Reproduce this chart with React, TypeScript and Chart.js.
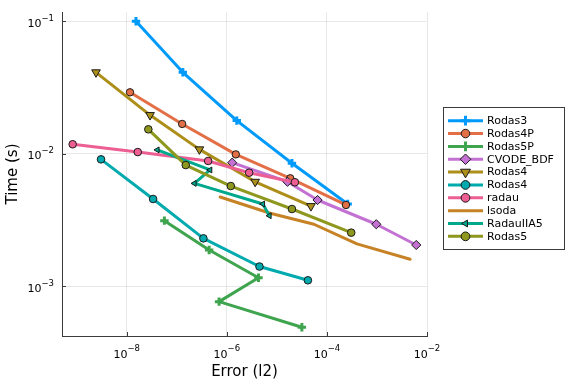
import React, { useEffect, useRef } from 'react';
import { Chart, registerables } from 'chart.js';
import { drawPoint } from 'chart.js/helpers';

Chart.register(...registerables);

const seriesNames = ['Rodas3', 'Rodas4P', 'Rodas5P', 'CVODE_BDF', 'Rodas4', 'Rodas4', 'radau', 'lsoda', 'RadauIIA5', 'Rodas5'];
const seriesColors = ['#009AFA', '#E36F47', '#3EA44E', '#C371D2', '#AC8E18', '#00AAAE', '#ED5E93', '#C68225', '#00A98D', '#8E971E'];

const errRodas3 = [1.53e-8, 1.32e-7, 1.58e-6, 2.0e-5, 2.6e-4];
const timeRodas3 = [0.1, 0.0412, 0.0178, 0.00848, 0.00418];
const errRodas4P = [1.16e-8, 1.28e-7, 1.51e-6, 1.85e-5, 2.4e-4];
const timeRodas4P = [0.0291, 0.0168, 0.0099, 0.00653, 0.00411];
const errRodas5P = [5.65e-8, 4.43e-7, 4.29e-6, 7.0e-7, 3.16e-5];
const timeRodas5P = [0.00313, 0.00188, 0.00116, 0.000766, 0.000491];
const errCVODE = [1.28e-6, 1.63e-5, 6.5e-5, 9.7e-4, 6.1e-3];
const timeCVODE = [0.00857, 0.00615, 0.00448, 0.00294, 0.00205];
const errRodas4Tri = [2.43e-9, 2.92e-8, 2.83e-7, 3.68e-6, 4.8e-5];
const timeRodas4Tri = [0.0412, 0.0196, 0.0108, 0.00615, 0.00403];
const errRodas4Circ = [3.06e-9, 3.36e-8, 3.4e-7, 4.49e-6, 4.17e-5];
const timeRodas4Circ = [0.00908, 0.00456, 0.0023, 0.00141, 0.00111];
const errRadau = [8.3e-10, 1.66e-8, 4.23e-7, 2.79e-6, 2.29e-5];
const timeRadau = [0.0118, 0.0103, 0.00883, 0.0072, 0.0061];
const errLsoda = [7.35e-7, 7.35e-6, 5.5e-5, 3.98e-4, 4.6e-3];
const timeLsoda = [0.00472, 0.00356, 0.00294, 0.00209, 0.0016];
const errRadauIIA5 = [4.09e-8, 4.63e-7, 2.25e-7, 5.25e-6, 7.1e-6];
const timeRadauIIA5 = [0.0107, 0.00755, 0.00598, 0.00418, 0.00341];
const errRodas5 = [2.7e-8, 1.51e-7, 1.2e-6, 2.0e-5, 3.06e-4];
const timeRodas5 = [0.0153, 0.00822, 0.00571, 0.00383, 0.00254];

const seriesErr = [errRodas3, errRodas4P, errRodas5P, errCVODE, errRodas4Tri, errRodas4Circ, errRadau, errLsoda, errRadauIIA5, errRodas5];
const seriesTime = [timeRodas3, timeRodas4P, timeRodas5P, timeCVODE, timeRodas4Tri, timeRodas4Circ, timeRadau, timeLsoda, timeRadauIIA5, timeRodas5];

const xTickValues = [1e-8, 1e-6, 1e-4, 1e-2];
const xTickExponents = ['−8', '−6', '−4', '−2'];
const yTickValues = [1e-3, 1e-2, 1e-1];
const yTickExponents = ['−3', '−2', '−1'];
const tickBase = '10';

const xTitle = 'Error (l2)';
const yTitle = 'Time (s)';

const FONT = '"DejaVu Sans", sans-serif';
const AXIS_COLOR = '#3a3a3a';

type MarkerSpec = { style: any; radius: number; rotation: number; cross: boolean };
const markers: MarkerSpec[] = [
  { style: 'cross', radius: 4.2, rotation: 0, cross: true },
  { style: 'circle', radius: 3.7, rotation: 0, cross: false },
  { style: 'cross', radius: 4.2, rotation: 0, cross: true },
  { style: 'rectRot', radius: 4.6, rotation: 0, cross: false },
  { style: 'triangle', radius: 5, rotation: 180, cross: false },
  { style: 'circle', radius: 3.8, rotation: 0, cross: false },
  { style: 'circle', radius: 3.8, rotation: 0, cross: false },
  { style: 'circle', radius: 0, rotation: 0, cross: false },
  { style: 'triangle', radius: 3.4, rotation: -90, cross: false },
  { style: 'circle', radius: 3.8, rotation: 0, cross: false },
];

const legendPlugin = {
  id: 'plotsLegend',
  afterDraw(chart: any) {
    const ctx = chart.ctx as CanvasRenderingContext2D;
    ctx.save();
    const bx = 443.5, by = 107.5, bw = 121, bh = 142;
    ctx.fillStyle = '#ffffff';
    ctx.fillRect(bx, by, bw, bh);
    ctx.strokeStyle = AXIS_COLOR;
    ctx.lineWidth = 1;
    ctx.strokeRect(bx, by, bw, bh);
    chart.data.datasets.forEach((ds: any, i: number) => {
      const y = 120.7 + i * 12.85;
      ctx.strokeStyle = ds.borderColor;
      ctx.lineWidth = 3;
      ctx.beginPath();
      ctx.moveTo(448, y);
      ctx.lineTo(483, y);
      ctx.stroke();
      const m = markers[i];
      if (m.radius > 0) {
        ctx.fillStyle = ds.pointBackgroundColor;
        ctx.strokeStyle = ds.pointBorderColor;
        ctx.lineWidth = ds.pointBorderWidth;
        drawPoint(ctx, { pointStyle: m.style, rotation: m.rotation, radius: m.radius * 1.15, borderWidth: ds.pointBorderWidth }, 465.5, y);
      }
      ctx.fillStyle = '#000000';
      ctx.font = '11px ' + FONT;
      ctx.textBaseline = 'middle';
      ctx.textAlign = 'left';
      ctx.fillText(ds.label, 487, y + 0.5);
    });
    ctx.restore();
  },
};

const tickPlugin = {
  id: 'plotsTicks',
  afterDraw(chart: any) {
    const ctx = chart.ctx as CanvasRenderingContext2D;
    const { left, bottom } = chart.chartArea;
    const xs = chart.scales.x;
    const ys = chart.scales.y;
    ctx.save();
    ctx.strokeStyle = AXIS_COLOR;
    ctx.lineWidth = 1;
    ctx.beginPath();
    xTickValues.forEach((v) => {
      const px = Math.round(xs.getPixelForValue(v)) + 0.5;
      ctx.moveTo(px, bottom);
      ctx.lineTo(px, bottom - 4);
    });
    yTickValues.forEach((v) => {
      const py = Math.round(ys.getPixelForValue(v)) + 0.5;
      ctx.moveTo(left, py);
      ctx.lineTo(left + 4, py);
    });
    ctx.stroke();

    const baseFont = '11px ' + FONT;
    const expFont = '8.5px ' + FONT;
    ctx.fillStyle = '#000000';
    ctx.textBaseline = 'alphabetic';
    ctx.textAlign = 'left';
    ctx.font = baseFont;
    const wBase = ctx.measureText(tickBase).width;

    xTickValues.forEach((v, i) => {
      const px = xs.getPixelForValue(v);
      ctx.font = expFont;
      const wExp = ctx.measureText(xTickExponents[i]).width;
      const start = px - (wBase + wExp) / 2;
      ctx.font = baseFont;
      ctx.fillText(tickBase, start, bottom + 21.7);
      ctx.font = expFont;
      ctx.fillText(xTickExponents[i], start + wBase, bottom + 15);
    });
    yTickValues.forEach((v, i) => {
      const py = ys.getPixelForValue(v);
      ctx.font = expFont;
      const wExp = ctx.measureText(yTickExponents[i]).width;
      const start = left - 8 - wExp - wBase;
      ctx.font = baseFont;
      ctx.fillText(tickBase, start, py + 5.3);
      ctx.font = expFont;
      ctx.fillText(yTickExponents[i], start + wBase, py - 0.7);
    });
    ctx.restore();
  },
};

export default function App() {
  const canvasRef = useRef<HTMLCanvasElement | null>(null);

  useEffect(() => {
    const canvas = canvasRef.current;
    if (!canvas) return;
    Chart.defaults.font.family = FONT;

    const datasets = seriesNames.map((name, i) => {
      const m = markers[i];
      const color = seriesColors[i];
      return {
        label: name,
        data: seriesErr[i].map((e, k) => ({ x: e, y: seriesTime[i][k] })),
        borderColor: color,
        backgroundColor: color,
        borderWidth: 3,
        showLine: true,
        fill: false,
        tension: 0,
        pointStyle: m.style,
        pointRadius: m.radius,
        pointRotation: m.rotation,
        pointBackgroundColor: color,
        pointBorderColor: m.cross ? color : '#1a1a1a',
        pointBorderWidth: m.cross ? 3 : 1,
        pointHoverRadius: m.radius,
        order: seriesNames.length - i,
      };
    });

    const chart = new Chart(canvas, {
      type: 'line',
      data: { datasets },
      plugins: [tickPlugin, legendPlugin],
      options: {
        animation: false,
        responsive: false,
        devicePixelRatio: 1,
        layout: { padding: { top: 12, right: 149, left: 0, bottom: 0 } },
        plugins: { legend: { display: false }, tooltip: { enabled: false } },
        elements: { line: { borderCapStyle: 'round', borderJoinStyle: 'round' } },
        scales: {
          x: {
            type: 'logarithmic',
            min: Math.pow(10, -9.294),
            max: 1e-2,
            afterBuildTicks: (scale: any) => {
              scale.ticks = xTickValues.map((v) => ({ value: v }));
            },
            afterFit: (scale: any) => {
              scale.height = 48;
            },
            ticks: { display: false, autoSkip: false, maxRotation: 0 },
            grid: { color: 'rgba(0,0,0,0.09)', lineWidth: 1, drawTicks: false },
            border: { display: true, color: AXIS_COLOR, width: 1 },
            title: {
              display: true,
              text: xTitle,
              color: '#000000',
              font: { size: 15, family: FONT },
              padding: { top: 0, bottom: 3 },
            },
          },
          y: {
            type: 'logarithmic',
            min: Math.pow(10, -3.375),
            max: Math.pow(10, -0.93),
            afterBuildTicks: (scale: any) => {
              scale.ticks = yTickValues.map((v) => ({ value: v }));
            },
            afterFit: (scale: any) => {
              scale.width = 62;
            },
            ticks: { display: false, autoSkip: false },
            grid: { color: 'rgba(0,0,0,0.09)', lineWidth: 1, drawTicks: false },
            border: { display: true, color: AXIS_COLOR, width: 1 },
            title: {
              display: true,
              text: yTitle,
              color: '#000000',
              font: { size: 15, family: FONT },
              padding: { top: 4, bottom: 0 },
            },
          },
        },
      },
    });

    return () => {
      chart.destroy();
    };
  }, []);

  return (
    <div style={{ position: 'absolute', left: 0, top: 0, width: 576, height: 384, background: '#ffffff' }}>
      <canvas ref={canvasRef} width={576} height={384} style={{ display: 'block', width: 576, height: 384 }} />
    </div>
  );
}
